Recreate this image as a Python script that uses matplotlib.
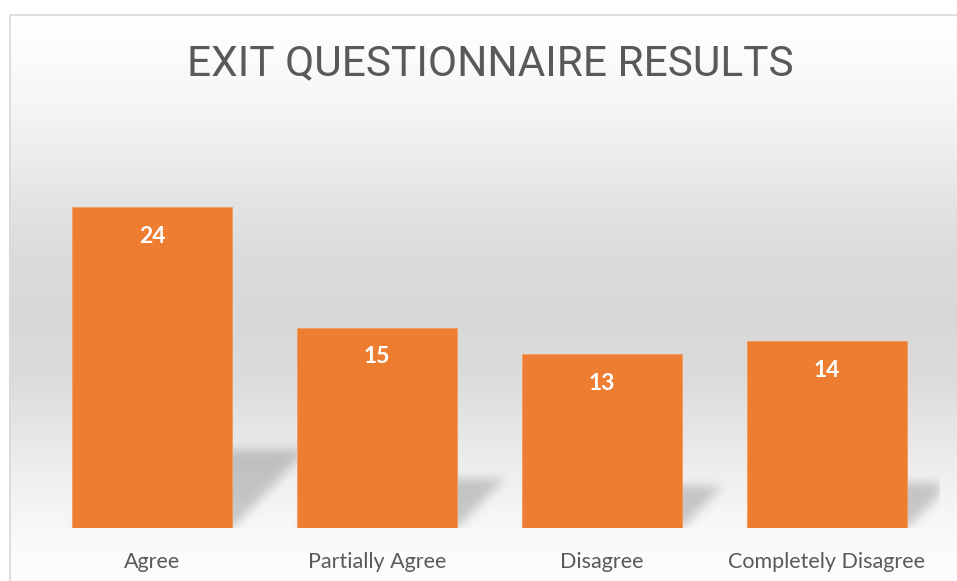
import numpy as np
import matplotlib
matplotlib.use("Agg")
import matplotlib.pyplot as plt
from matplotlib.lines import Line2D

categories = ["Agree", "Partially Agree", "Disagree", "Completely Disagree"]
values = [24, 15, 13, 14]
title = "EXIT QUESTIONNAIRE RESULTS"

W_PX, H_PX = 957, 581
fig = plt.figure(figsize=(W_PX / 100, H_PX / 100), dpi=100)

# ---- background gradient with frame ----
bg = fig.add_axes([0, 0, 1, 1])
bg.set_axis_off()
ys = np.array([14, 50, 100, 150, 200, 260, 320, 380, 430, 480, 528, 560, 581])
gs = np.array([255, 252, 246, 238, 228, 219, 216, 220, 230, 240, 248, 252, 253])
rows = np.interp(np.arange(H_PX), ys, gs) / 255.0
img = np.repeat(rows[:, None], W_PX, axis=1)
img[:14, :] = 1.0
img[:, :9] = 1.0
bg.imshow(np.dstack([img] * 3), extent=(0, W_PX, H_PX, 0), aspect="auto",
          interpolation="nearest")
bg.set_xlim(0, W_PX)
bg.set_ylim(H_PX, 0)
bg.add_line(Line2D([9.5, 9.5], [14.5, H_PX], color="#d9d9d9", lw=1.2))
bg.add_line(Line2D([9.5, W_PX], [14.5, 14.5], color="#d9d9d9", lw=1.2))

# ---- main axes ----
left, right = 39.5, 939.5
base, top = 528, 127
ax = fig.add_axes([left / W_PX, (H_PX - base) / H_PX,
                   (right - left) / W_PX, (base - top) / H_PX])
ax.set_facecolor("none")
ymax = 30
ax.set_xlim(-0.5, len(categories) - 0.5)
ax.set_ylim(0, ymax)
bar_w = 160 / 225

# shadows (raster, blurred)
Wp, Hp = int(right - left), int(base - top)
pxx = Wp / len(categories)
pxy = Hp / ymax
yy, xx = np.mgrid[0:Hp, 0:Wp] + 0.5
yb = Hp - yy
mask = np.zeros((Hp, Wp))
k = 0.95
for i, v in enumerate(values):
    x0 = (i - bar_w / 2 + 0.5) * pxx
    x1 = (i + bar_w / 2 + 0.5) * pxx
    h = v * pxy * 0.243
    m = (yb <= h) & (xx >= x0 + yb * k) & (xx <= x1 + yb * k)
    mask = np.maximum(mask, m.astype(float))
sig = 5.0
kx = np.arange(-15, 16)
kern = np.exp(-kx ** 2 / (2 * sig ** 2))
kern /= kern.sum()
mask = np.apply_along_axis(lambda r: np.convolve(r, kern, mode="same"), 1, mask)
mask = np.apply_along_axis(lambda c: np.convolve(c, kern, mode="same"), 0, mask)
rgba = np.zeros((Hp, Wp, 4))
rgba[..., 3] = mask * 0.19
ax.imshow(rgba, extent=(-0.5, len(categories) - 0.5, 0, ymax), aspect="auto",
          zorder=1, interpolation="bilinear")

x = np.arange(len(categories))
bars = ax.bar(x, values, width=bar_w, color="#ED7D31", edgecolor="#f29a5c",
              linewidth=0.6, zorder=2)
for xi, v in zip(x, values):
    ax.annotate(str(v), (xi, v), xytext=(0, -21), textcoords="offset points",
                ha="center", va="center", color="white", fontsize=16.5,
                fontweight="bold", family="Lato", zorder=3)

ax.set_xticks(x)
ax.set_xticklabels(categories, family="Lato", fontsize=15.5, color="#595959")
ax.tick_params(axis="x", length=0, pad=17)
ax.set_yticks([])
for s in ax.spines.values():
    s.set_visible(False)

fig.text(490 / W_PX, (H_PX - 64) / H_PX, title, ha="center", va="center",
         fontsize=30.5, color="#595959", family="Roboto", fontweight="normal")

fig.savefig("out.png", dpi=100)
